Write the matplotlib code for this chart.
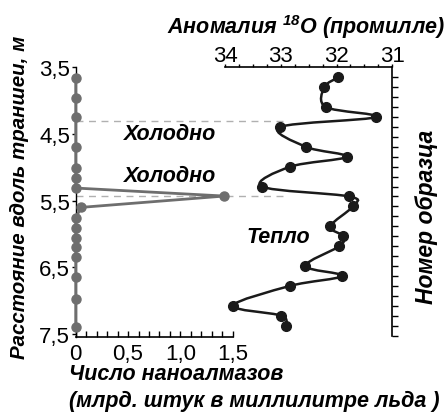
import numpy as np
import matplotlib
matplotlib.use("Agg")
import matplotlib.pyplot as plt
from matplotlib.path import Path
from matplotlib.patches import PathPatch

plt.rcParams['font.family'] = ['Liberation Sans', 'DejaVu Sans']
plt.rcParams['mathtext.fontset'] = 'custom'
plt.rcParams['mathtext.rm'] = 'Liberation Sans:bold:italic'
plt.rcParams['mathtext.it'] = 'Liberation Sans:bold:italic'

# nanodiamond concentration (bn per ml of ice) vs depth along trench, m
nd_depth = [3.66, 3.96, 4.25, 4.70, 5.01, 5.16, 5.31, 5.43, 5.60, 5.76,
            5.91, 6.06, 6.20, 6.34, 6.65, 6.97, 7.40]
nd_value = [0, 0, 0, 0, 0, 0, 0, 1.42, 0.05, 0, 0, 0, 0, 0, 0, 0, 0]

# delta 18O anomaly (permil) vs sample number
o18_sample = [1, 2, 4, 5, 6, 8, 9, 10, 12, 13, 14, 16, 17, 18, 20, 21, 22, 24, 25, 26]
o18_value = [31.97, 32.22, 32.19, 31.29, 33.01, 32.55, 31.82, 32.83, 33.34, 31.77,
             31.71, 32.11, 31.88, 31.95, 32.56, 31.90, 32.83, 33.86, 32.99, 32.91]

depth_ticks = [3.5, 4.5, 5.5, 6.5, 7.5]
depth_labels = ["3,5", "4,5", "5,5", "6,5", "7,5"]
nd_ticks = [0, 0.5, 1.0, 1.5]
nd_labels = ["0", "0,5", "1,0", "1,5"]
o18_ticks = [34, 33, 32, 31]
o18_labels = ["34", "33", "32", "31"]
cold_lines = [4.31, 5.425]

W, H = 446, 414
fig = plt.figure(figsize=(W / 100, H / 100), dpi=100)

def box(x0, y0, x1, y1):
    return [x0 / W, 1 - y1 / H, (x1 - x0) / W, (y1 - y0) / H]

tick_fs = 16
lab = dict(fontweight="bold", fontstyle="italic", fontsize=15.5)

# ---- left panel: nanodiamonds
ax1 = fig.add_axes(box(75.7, 68.3, 232.7, 338))
ax1.set_xlim(0, 1.5)
ax1.set_ylim(7.543, 3.5)
for s in ["top", "right"]:
    ax1.spines[s].set_visible(False)
ax1.spines["left"].set_linewidth(1.0)
ax1.spines["bottom"].set_linewidth(1.2)
ax1.set_yticks(depth_ticks)
ax1.set_yticklabels(depth_labels, fontsize=tick_fs)
ax1.set_xticks(nd_ticks)
ax1.set_xticklabels(nd_labels, fontsize=tick_fs)
ax1.set_xticks(np.arange(0, 1.51, 0.1), minor=True)
ax1.tick_params(axis="y", direction="out", length=3, width=1, pad=1)
ax1.tick_params(axis="x", which="both", direction="in", length=4, width=1, pad=4)
ax1.patch.set_alpha(0)

ax1.plot(nd_value, nd_depth, color="#6e6e6e", lw=2.0, marker="o", ms=6.5,
         clip_on=False, zorder=5)
for d in cold_lines:
    ax1.plot([0, 2.01], [d, d], color="#b0b0b0", lw=1.0, ls=(0, (5, 4)),
             clip_on=False, zorder=1)

# ---- right panel: 18O
ax2 = fig.add_axes(box(225, 68.4, 392.3, 336.5))
ax2.set_xlim(34, 31)
ax2.set_ylim(27, 0)
ax2.patch.set_alpha(0)
for s in ["left", "bottom"]:
    ax2.spines[s].set_visible(False)
ax2.spines["top"].set_linewidth(1.2)
ax2.spines["right"].set_linewidth(1.2)
ax2.xaxis.tick_top()
ax2.set_xticks(o18_ticks)
ax2.set_xticklabels(o18_labels, fontsize=tick_fs)
ax2.set_xticks(np.arange(31, 34.01, 0.25), minor=True)
ax2.tick_params(axis="x", which="both", direction="out", length=2.5, width=1, pad=-1.5)
ax2.yaxis.tick_right()
ax2.set_yticks(np.arange(1, 28))
ax2.set_yticklabels([])
ax2.tick_params(axis="y", direction="out", length=4, width=1)

# smooth curve through the points (Catmull-Rom as cubic Bezier)
pts = np.column_stack([o18_value, o18_sample]).astype(float)
ext = np.vstack([pts[0], pts, pts[-1]])
verts = [tuple(pts[0])]
codes = [Path.MOVETO]
for i in range(1, len(ext) - 2):
    p0, p1, p2, p3 = ext[i - 1], ext[i], ext[i + 1], ext[i + 2]
    c1 = p1 + (p2 - p0) / 6
    c2 = p2 - (p3 - p1) / 6
    verts += [tuple(c1), tuple(c2), tuple(p2)]
    codes += [Path.CURVE4] * 3
ax2.add_patch(PathPatch(Path(verts, codes), fill=False, ec="#1a1a1a", lw=1.8,
                        clip_on=False, zorder=4))
ax2.plot(o18_value, o18_sample, ls="none", marker="o", ms=7, color="#1a1a1a",
         clip_on=False, zorder=5)

# ---- texts
fig.text(306 / W, 1 - 27 / H, "Аномалия $^{18}$O (промилле)", ha="center", va="center", **lab)
fig.text(20 / W, 1 - 197 / H, "Расстояние вдоль траншеи, м", rotation=90,
         ha="center", va="center", **dict(lab, fontsize=14.8))
fig.text(427 / W, 1 - 217 / H, "Номер образца", rotation=90, ha="center", va="center",
         **dict(lab, fontsize=16.5))
fig.text(69 / W, 1 - 375 / H, "Число наноалмазов", ha="left", va="center", **lab)
fig.text(69 / W, 1 - 401 / H, "(млрд. штук в миллилитре льда )", ha="left", va="center", **lab)
fig.text(170 / W, 1 - 134 / H, "Холодно", ha="center", va="center", **lab)
fig.text(170 / W, 1 - 177 / H, "Холодно", ha="center", va="center", **lab)
fig.text(278 / W, 1 - 238 / H, "Тепло", ha="center", va="center", **lab)

fig.savefig("out.png", dpi=100)
